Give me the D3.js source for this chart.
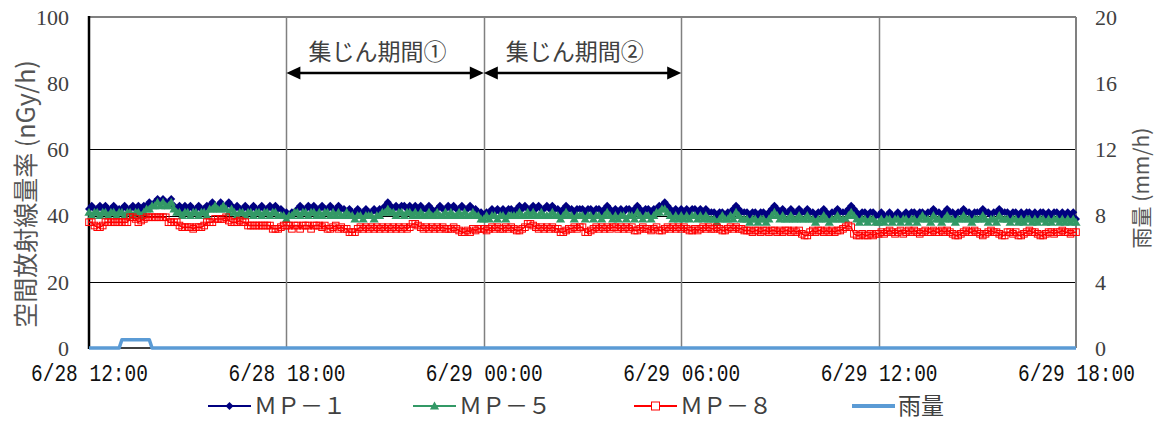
<!DOCTYPE html>
<html>
<head>
<meta charset="utf-8">
<script src="https://cdn.jsdelivr.net/npm/d3@7"></script>
<style>
  body { margin: 0; background: #fff; }
  svg { display: block; }
</style>
</head>
<body>
<script>
// ---- data: 5-minute readings, 6/28 12:00 – 6/29 18:00 ----
const startLabel = "6/28 12:00";
const endLabel = "6/29 18:00";
const stepMinutes = 5;

// air dose rate (nGy/h), one row per hour (12 readings), last reading at 18:00
const mp1 = [
  42,43,42,42,43,42,43,42,42,43,42,42,
  42,43,42,42,43,42,43,42,43,43,44,43,
  44,45,44,45,44,44,45,43,42,43,42,43,
  42,43,42,42,43,42,42,43,43,44,43,43,
  44,43,43,44,43,42,43,42,42,43,42,42,
  43,42,42,43,42,42,43,42,43,42,42,41,
  41,40,41,41,42,43,42,42,43,42,43,42,
  42,43,42,42,43,42,42,43,42,42,41,42,
  41,41,42,41,41,42,41,41,42,41,42,42,
  43,44,43,42,43,42,43,43,42,43,42,43,
  42,43,42,42,43,42,41,42,43,42,42,43,
  42,43,42,42,43,42,42,43,42,42,41,41,
  40,41,41,42,41,42,41,42,41,42,42,41,
  42,43,42,43,42,42,43,42,43,42,42,43,
  42,43,42,42,41,42,43,42,42,41,42,42,
  42,41,42,42,41,42,42,41,42,43,42,41,
  42,41,42,41,42,42,41,42,43,42,41,42,
  42,41,42,42,43,43,44,43,42,41,42,41,
  42,41,42,41,42,42,41,42,41,42,41,41,
  41,40,41,41,40,41,41,42,43,42,41,41,
  41,40,41,41,40,41,41,40,41,42,43,42,
  41,42,41,41,42,41,41,42,41,41,42,41,
  41,40,41,41,42,41,40,41,41,42,41,41,
  41,42,43,42,41,40,41,41,40,41,41,40,
  40,41,40,40,41,40,40,41,40,40,41,40,
  41,41,40,41,41,40,41,41,42,41,41,40,
  41,42,41,41,40,41,41,42,41,41,40,41,
  41,41,42,41,41,40,41,41,42,41,41,41,
  40,41,41,40,41,40,41,41,40,41,40,41,
  41,40,41,40,41,41,40,41,40,41,40,41,
  39
];

const mp5 = [
  41,40,41,41,40,41,41,40,41,41,40,41,
  41,40,41,41,40,41,41,40,41,42,42,43,
  43,44,43,44,43,43,44,42,41,41,40,41,
  41,40,41,41,40,41,41,40,42,42,43,42,
  42,43,42,41,42,41,40,41,41,40,41,41,
  40,41,41,40,41,41,40,41,41,40,40,40,
  39,40,40,41,41,40,41,41,40,41,41,40,
  41,40,41,41,40,41,40,41,40,40,41,40,
  40,39,40,40,39,40,40,40,39,40,40,41,
  41,42,41,41,40,41,41,40,41,41,40,41,
  40,41,40,40,41,40,40,41,40,40,41,40,
  41,40,40,41,40,41,40,40,41,40,40,39,
  39,40,39,40,40,39,40,40,39,40,40,40,
  40,41,40,40,41,40,41,40,40,41,40,40,
  40,41,40,40,39,40,41,40,40,39,40,40,
  40,39,40,40,39,40,40,39,40,41,40,39,
  40,39,40,40,39,40,40,39,41,40,39,40,
  40,39,40,41,41,42,42,41,40,39,40,39,
  40,39,40,39,40,40,39,40,39,40,39,39,
  39,38,39,40,39,39,40,39,41,40,39,39,
  39,38,39,39,38,39,39,38,39,40,41,40,
  39,40,39,39,40,39,39,40,39,39,40,39,
  39,38,39,39,40,39,38,39,39,40,39,39,
  39,40,41,40,39,38,39,39,38,39,39,38,
  38,39,38,39,39,38,39,39,38,39,39,38,
  39,39,38,39,40,39,39,38,40,39,39,38,
  39,40,39,39,38,39,39,40,39,39,38,39,
  39,39,40,39,38,39,39,38,40,39,39,39,
  38,39,39,38,39,38,39,39,38,39,38,39,
  39,38,39,38,39,39,38,39,38,39,38,39,
  38
];

const mp8 = [
  38,38,37,36.5,36.5,37,38,38,38,38,38,38,
  38,38,38,39.5,39.5,39,38,38.5,39,39.5,39.5,39.5,
  39.5,39.5,39.5,39.5,39.5,38,38,38,38,37,36.5,36.5,
  36.5,36.5,36,36.5,36.5,36.5,37,38,38,38,39,39,
  39,39,39.5,38.5,38,38,38,38.5,38,38,37,37,
  37,37,37,37,37,37,37,36,36,36,36.5,37,
  37,37,36,37,37,36,37,37,37,36,37,37,
  37,36.5,37,36,36,36.5,37,36,36.5,36,36,35,
  35,35,36,36.5,36,36.5,36,36.5,36,36.5,36,36.5,
  36,36.5,36,36.5,36,36.5,36,36.5,36,36.5,37.5,37.5,
  37,36.5,36,36.5,36,36.5,36,36.5,36,36.5,36,36,
  36,36.5,36,35.5,35,35,35.5,35,36,35.5,36,36,
  36,35.5,36,36.5,36,36.5,36,36,36.5,36,36.5,36,
  35.5,35.5,36,36.5,37.5,37.5,37,36.5,36,36.5,36,36.5,
  36,36.5,36,36,35,35,35.5,36,36,36.5,36,36.5,
  36.5,35,35,35.5,36,36.5,36,36.5,36,36.5,36,36.5,
  36.5,36,36.5,36,36.5,36,36.5,35.5,35.5,36,36.5,36,
  36,35.5,36,36.5,35.5,35.5,36,36.5,36,36.5,36,36.5,
  36,36.5,36,35.5,35.5,36,35.5,36,36.5,36,36.5,36,
  36,36.5,36,35.5,35.5,36,36.5,36,36.5,36,36,35.5,
  35.5,35.5,35,35.5,35.5,35,35.5,35.5,35,35.5,35.5,35,
  35.5,35,35.5,35.5,35,35.5,35,35.5,34.5,34,34,35,
  35.5,35,35.5,35.5,35,35.5,35,35.5,35,35.5,35.5,36,
  36.5,37,36.5,34.5,34,34,34.5,34,34,34.5,34,34.5,
  34.5,35,34.5,35,35.5,35,34.5,35,35.5,34.5,35,35.5,
  35,35.5,35,34.5,35,35.5,35,35,35.5,35,35,35.5,
  35,35.5,35,34.5,34,34,34.5,35,35.5,35,35,35.5,
  35,34.5,34,34.5,35,35.5,35,35,34.5,34,34,35,
  35,34.5,35,34,34,34.5,35,35.5,35,35,34.5,34,
  34,34.5,35,35,34.5,35,35,35.5,35,35,34.5,35,
  35
];

// rainfall (mm/h)
const rain = [
  0,0,0,0,0,0,0,0,0,0,0,0,
  0.5,0.5,0.5,0.5,0.5,0.5,0.5,0.5,0.5,0.5,0.5,0,
  0,0,0,0,0,0,0,0,0,0,0,0,0,0,0,0,0,0,0,0,0,0,0,0,
  0,0,0,0,0,0,0,0,0,0,0,0,0,0,0,0,0,0,0,0,0,0,0,0,
  0,0,0,0,0,0,0,0,0,0,0,0,0,0,0,0,0,0,0,0,0,0,0,0,
  0,0,0,0,0,0,0,0,0,0,0,0,0,0,0,0,0,0,0,0,0,0,0,0,
  0,0,0,0,0,0,0,0,0,0,0,0,0,0,0,0,0,0,0,0,0,0,0,0,
  0,0,0,0,0,0,0,0,0,0,0,0,0,0,0,0,0,0,0,0,0,0,0,0,
  0,0,0,0,0,0,0,0,0,0,0,0,0,0,0,0,0,0,0,0,0,0,0,0,
  0,0,0,0,0,0,0,0,0,0,0,0,0,0,0,0,0,0,0,0,0,0,0,0,
  0,0,0,0,0,0,0,0,0,0,0,0,0,0,0,0,0,0,0,0,0,0,0,0,
  0,0,0,0,0,0,0,0,0,0,0,0,0,0,0,0,0,0,0,0,0,0,0,0,
  0,0,0,0,0,0,0,0,0,0,0,0,0,0,0,0,0,0,0,0,0,0,0,0,
  0,0,0,0,0,0,0,0,0,0,0,0,0,0,0,0,0,0,0,0,0,0,0,0,
  0,0,0,0,0,0,0,0,0,0,0,0,0,0,0,0,0,0,0,0,0,0,0,0,
  0,0,0,0,0,0,0,0,0,0,0,0,0,0,0,0,0,0,0,0,0,0,0,0,
  0
];

const xTickLabels = ["6/28 12:00", "6/28 18:00", "6/29 00:00", "6/29 06:00", "6/29 12:00", "6/29 18:00"];
const leftTicks = [0, 20, 40, 60, 80, 100];
const rightTicks = [0, 4, 8, 12, 16, 20];
const gridValues = [20, 40, 60];

const periods = [
  { label: "集じん期間①", from: "6/28 18:00", to: "6/29 00:00" },
  { label: "集じん期間②", from: "6/29 00:00", to: "6/29 06:00" }
];

const seriesNames = ["ＭＰ－１", "ＭＰ－５", "ＭＰ－８", "雨量"];

// ---- layout ----
const W = 1164, H = 423;
const plot = { left: 89, right: 1076, top: 17, bottom: 348 };

const parse = d3.timeParse("%m/%d %H:%M");
const t0 = parse(startLabel), t1 = parse(endLabel);
const times = mp1.map((_, i) => d3.timeMinute.offset(t0, i * stepMinutes));

const x = d3.scaleTime().domain([t0, t1]).range([plot.left, plot.right]);
const yL = d3.scaleLinear().domain([0, 100]).range([plot.bottom, plot.top]);
const yR = d3.scaleLinear().domain([0, 20]).range([plot.bottom, plot.top]);

const svg = d3.select("body").append("svg").attr("width", W).attr("height", H);

const serif = "'Liberation Serif', 'DejaVu Serif', serif";
const cjk = "'Noto Sans CJK JP', 'Noto Sans', sans-serif";
const mono = "'Liberation Mono', 'DejaVu Sans Mono', monospace";
const textColor = "#404040";

// horizontal grid
svg.append("g").selectAll("line").data(gridValues).join("line")
  .attr("x1", plot.left).attr("x2", plot.right)
  .attr("y1", d => Math.round(yL(d)) + 0.5).attr("y2", d => Math.round(yL(d)) + 0.5)
  .attr("stroke", "#000").attr("stroke-width", 1);

// vertical grid (every 6 hours)
const xTickDates = xTickLabels.map(parse);
svg.append("g").selectAll("line").data(xTickDates.slice(1, -1)).join("line")
  .attr("x1", d => Math.round(x(d)) + 0.5).attr("x2", d => Math.round(x(d)) + 0.5)
  .attr("y1", plot.top).attr("y2", plot.bottom)
  .attr("stroke", "#808080").attr("stroke-width", 1.5);

// frame: grey top & right, black left & bottom
svg.append("line").attr("x1", plot.left).attr("x2", plot.right)
  .attr("y1", plot.top).attr("y2", plot.top).attr("stroke", "#808080").attr("stroke-width", 2);
svg.append("line").attr("x1", plot.right).attr("x2", plot.right)
  .attr("y1", plot.top).attr("y2", plot.bottom).attr("stroke", "#808080").attr("stroke-width", 2);
svg.append("line").attr("x1", plot.left).attr("x2", plot.right)
  .attr("y1", plot.bottom).attr("y2", plot.bottom).attr("stroke", "#000").attr("stroke-width", 1.5);
svg.append("line").attr("x1", plot.left).attr("x2", plot.left)
  .attr("y1", plot.top - 1).attr("y2", plot.bottom + 1).attr("stroke", "#000").attr("stroke-width", 2.5);

// axes
const axL = svg.append("g").attr("transform", `translate(${plot.left - 20},0)`)
  .call(d3.axisLeft(yL).tickValues(leftTicks).tickSize(0).tickPadding(0));
const axR = svg.append("g").attr("transform", `translate(${plot.right + 19},0)`)
  .call(d3.axisRight(yR).tickValues(rightTicks).tickSize(0).tickPadding(0));
[axL, axR].forEach(g => {
  g.select(".domain").remove();
  g.selectAll("text").attr("font-family", serif).attr("font-size", 22).attr("fill", textColor).attr("dy", "0.33em");
});

const axB = svg.append("g").attr("transform", `translate(0,${plot.bottom})`)
  .call(d3.axisBottom(x).tickValues(xTickDates).tickSize(0).tickPadding(0)
    .tickFormat((d, i) => xTickLabels[i]));
axB.select(".domain").remove();
axB.selectAll("text").attr("font-family", mono).attr("font-size", 19.5).attr("fill", "#111")
  .attr("y", 0).attr("dy", 0)
  .attr("transform", "translate(0,33) scale(1,1.2)");

// axis titles
svg.append("text")
  .attr("transform", `translate(26,${194}) rotate(-90)`)
  .attr("text-anchor", "middle").attr("dy", "0.35em")
  .attr("font-family", cjk).attr("font-size", 25).attr("fill", "#555")
  .text("空間放射線量率 (nGy/h)");
svg.append("text")
  .attr("transform", `translate(1142,${188}) rotate(-90)`)
  .attr("text-anchor", "middle").attr("dy", "0.35em")
  .attr("font-family", cjk).attr("font-size", 21).attr("fill", "#555")
  .text("雨量 (mm/h)");

// collection period arrows
const arrowY = 73;
const pg = svg.append("g");
periods.forEach(p => {
  const xa = x(parse(p.from)), xb = x(parse(p.to));
  pg.append("line").attr("x1", xa + 8).attr("x2", xb - 8).attr("y1", arrowY).attr("y2", arrowY)
    .attr("stroke", "#000").attr("stroke-width", 2.5);
  pg.append("path").attr("d", `M${xa},${arrowY} L${xa + 14},${arrowY - 6.5} L${xa + 14},${arrowY + 6.5} Z`).attr("fill", "#000");
  pg.append("path").attr("d", `M${xb},${arrowY} L${xb - 14},${arrowY - 6.5} L${xb - 14},${arrowY + 6.5} Z`).attr("fill", "#000");
  pg.append("text").attr("x", xa + 22).attr("y", 52).attr("dy", "0.35em")
    .attr("font-family", cjk).attr("font-size", 23).attr("fill", "#404040")
    .text(p.label);
});

// marker shapes
const markers = {
  diamond: (g, c) => g.append("path").attr("d", "M0,-4L4,0L0,4L-4,0Z").attr("fill", c),
  triangle: (g, c) => g.append("path").attr("d", "M0,-4.5L4.6,3.5L-4.6,3.5Z").attr("fill", c),
  square: (g, c) => g.append("rect").attr("x", -3.3).attr("y", -3.3).attr("width", 6.6).attr("height", 6.6)
    .attr("fill", "none").attr("stroke", c).attr("stroke-width", 1)
};

const series = [
  { name: seriesNames[0], values: mp1, color: "#000080", marker: "diamond", width: 2.2 },
  { name: seriesNames[1], values: mp5, color: "#339966", marker: "triangle", width: 2.2 },
  { name: seriesNames[2], values: mp8, color: "#FF0000", marker: "square", width: 1.5 }
];

const lineL = d3.line().x((d, i) => x(times[i])).y(d => yL(d));

series.forEach(s => {
  const g = svg.append("g");
  g.append("path").datum(s.values).attr("d", lineL)
    .attr("fill", "none").attr("stroke", s.color).attr("stroke-width", s.width).attr("stroke-linejoin", "round");
  const mg = g.append("g");
  s.values.forEach((v, i) => {
    const m = mg.append("g").attr("transform", `translate(${x(times[i])},${yL(v)})`);
    markers[s.marker](m, s.color);
  });
});

// rain on the secondary axis
const lineR = d3.line().x((d, i) => x(times[i])).y(d => yR(d));
svg.append("path").datum(rain).attr("d", lineR)
  .attr("fill", "none").attr("stroke", "#5B9BD5").attr("stroke-width", 3.5).attr("stroke-linejoin", "round");

// legend
const legendY = 406;
const legendItems = [
  { name: seriesNames[0], color: "#000080", marker: "diamond", x: 208, w: 1.8 },
  { name: seriesNames[1], color: "#339966", marker: "triangle", x: 413, w: 1.8 },
  { name: seriesNames[2], color: "#FF0000", marker: "square", x: 634, w: 1.8 },
  { name: seriesNames[3], color: "#5B9BD5", marker: null, x: 852, w: 4 }
];
legendItems.forEach(it => {
  const g = svg.append("g").attr("transform", `translate(${it.x},${legendY})`);
  g.append("line").attr("x1", 0).attr("x2", 43).attr("stroke", it.color).attr("stroke-width", it.w);
  if (it.marker) {
    const m = g.append("g").attr("transform", "translate(21.5,0)");
    markers[it.marker](m, it.color);
    if (it.marker === "square") m.select("rect").attr("x", -4).attr("y", -4).attr("width", 8).attr("height", 8).attr("fill", "#fff");
  }
  g.append("text").attr("x", 46).attr("dy", "0.36em")
    .attr("font-family", cjk).attr("font-size", 23).attr("fill", textColor)
    .text(it.name);
});
</script>
</body>
</html>
